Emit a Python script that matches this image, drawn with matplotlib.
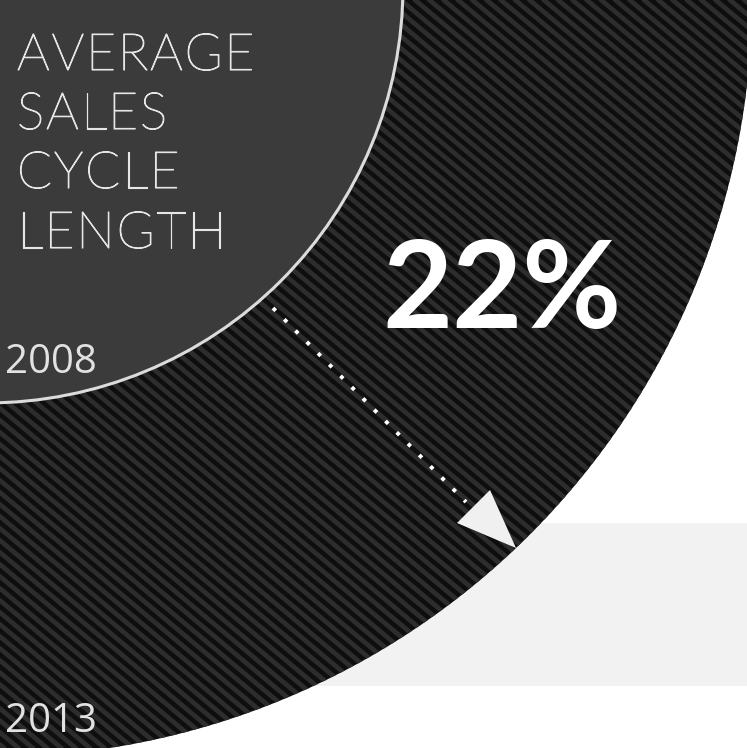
import numpy as np
import matplotlib
matplotlib.use('Agg')
import matplotlib.pyplot as plt
import matplotlib.patheffects as pe
from matplotlib.patches import Circle, Rectangle, Polygon
from matplotlib.collections import LineCollection
from matplotlib.font_manager import FontProperties

# ============================
# data
# ============================
title_lines = ["AVERAGE", "SALES", "CYCLE", "LENGTH"]
years = ["2008", "2013"]
change_label = "22%"

# circles (pixel space, y down)
inner_center, inner_r = (-14, -14), 417
outer_center, outer_r = (-7, -2), 759

W, H = 747, 748
fig = plt.figure(figsize=(W / 100, H / 100), dpi=100)
ax = fig.add_axes([0, 0, 1, 1])
ax.set_xlim(0, W)
ax.set_ylim(H, 0)
ax.axis('off')
fig.patch.set_facecolor('white')

# light band behind the circle
ax.add_patch(Rectangle((0, 523), W, 163, fc='#f2f2f2', ec='none', zorder=0))

# outer circle (2013) with diagonal stripes
outer = Circle(outer_center, outer_r, fc='#0e0e0e', ec='none', zorder=1)
ax.add_patch(outer)

theta = np.deg2rad(40)
d = 9.2
n = np.array([-np.sin(theta), np.cos(theta)])
t = np.array([np.cos(theta), np.sin(theta)])
segs = []
for k in np.arange(-120, 160):
    p0 = n * k * d
    segs.append([p0 - t * 2000, p0 + t * 2000])
stripes = LineCollection(segs, colors='#2d2d2d', linewidths=3.4, zorder=2)
stripes.set_clip_path(outer)
ax.add_collection(stripes)

# inner circle (2008)
ax.add_patch(Circle(inner_center, inner_r, fc='#3b3b3b', ec='#dcdcdc',
                    lw=2.2, zorder=3))

# tracked title text
renderer = fig.canvas.get_renderer()


def tracked(x, y, s, prop, tracking, **kw):
    for i, ch in enumerate(s):
        w = 0
        if i > 0:
            w = renderer.get_text_width_height_descent(s[:i], prop, ismath=False)[0]
        ax.text(x + w + i * tracking, y, ch, fontproperties=prop,
                va='baseline', ha='left', **kw)


title_prop = FontProperties(family=['Lato', 'DejaVu Sans'], weight='light', size=37)
baselines = [70, 129, 188, 248]
thicken = [pe.withStroke(linewidth=0.8, foreground='#e6e6e6')]
for line, yb in zip(title_lines, baselines):
    tracked(17, yb, line, title_prop, 1.8, color='#e6e6e6', zorder=6,
            path_effects=thicken)

# year labels
ax.text(5, 373, years[0], fontsize=29, family='Open Sans', color='#e2e2e2',
        va='baseline', ha='left', zorder=6)
ax.text(5, 732, years[1], fontsize=29, family='Open Sans', color='#e2e2e2',
        va='baseline', ha='left', zorder=6)

# change label
ax.text(382, 328, change_label, fontsize=87, family='Lato', weight='bold',
        color='white', va='baseline', ha='left', zorder=6)

# dotted arrow
ax.plot([273, 466], [308, 502], color='white', lw=2.8,
        ls=(0, (1.0, 3.1)), dash_capstyle='butt', zorder=5)
ax.add_patch(Polygon([(457, 523), (490, 490), (516, 548)], closed=True,
                     fc='#f0f0f0', ec='none', zorder=5))

fig.savefig('out.png', dpi=100, facecolor='white')
